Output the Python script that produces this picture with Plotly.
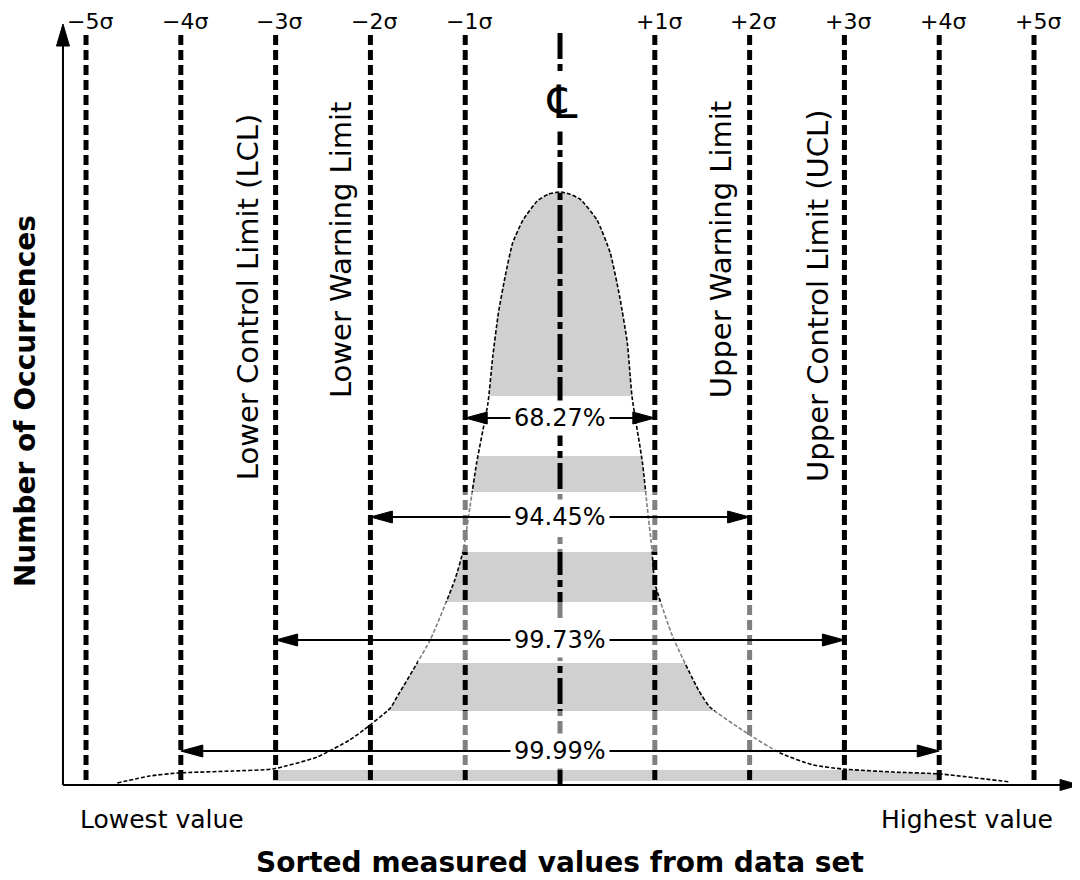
import plotly.graph_objects as go

# ---------------- data ----------------
sigma_levels = [-5, -4, -3, -2, -1, 1, 2, 3, 4, 5]
sigma_labels = ["−5σ", "−4σ", "−3σ", "−2σ", "−1σ", "+1σ", "+2σ", "+3σ", "+4σ", "+5σ"]

curve_s = [-4.67, -4.33, -4.03, -3.45, -3.03, -2.56, -2.22, -2.07, -1.79, -1.72, -1.37, -1.11,
           -1.02, -0.95, -0.88, -0.76, -0.71, -0.65, -0.58, -0.50, -0.39, -0.24, -0.12,
           0.00, 0.10, 0.21, 0.39, 0.53, 0.63, 0.71, 0.76, 0.87, 0.92, 0.97, 1.00, 1.19,
           1.46, 1.58, 1.97, 2.32, 2.67, 2.98, 3.51, 4.01, 4.75]
curve_h = [2, 9, 12, 14, 16, 28, 45, 55, 77, 88, 145, 205,
           235, 278, 322, 382, 428, 472, 508, 542, 565, 584, 591,
           593, 591, 586, 565, 532, 488, 442, 388, 322, 278, 235, 202, 148,
           95, 78, 52, 32, 20, 16, 13, 11, 3]

band_bottom = [389, 293, 183, 74, 4]
band_top = [593, 329, 233, 122, 15]
band5_extent = [-3.03, 4.01]

overlay_gaps = [1, 2, 3]
overlay_s0 = [-1.15, -1.5, -1.7]
overlay_s1 = [1.15, 2.25, 2.3]

arrow_pct = ["68.27%", "94.45%", "99.73%", "99.99%"]
arrow_half = [1, 2, 3, 4]
arrow_h = [367, 268, 145, 34]

limit_labels = ["Lower Control Limit (LCL)", "Lower Warning Limit",
                "Upper Warning Limit", "Upper Control Limit (UCL)"]
limit_label_s = [-3.29, -2.31, 1.70, 2.72]
limit_label_h = [488, 535, 535, 489]

x_title = "Sorted measured values from data set"
y_title = "Number of Occurrences"
low_text = "Lowest value"
high_text = "Highest value"

# ---------------- layout constants ----------------
FONT = "DejaVu Sans"
PX_PER_SIGMA = 94.8
X_RANGE = [-5.823, 5.485]
Y_RANGE = [-95, 777]
AXIS_X0 = -5.243
AXIS_X1 = 5.475
AXIS_YTOP = 761
LINE_TOP = 750
HEAD_L = 22 / PX_PER_SIGMA   # arrow head length in sigma units
HEAD_W = 12                  # arrow head width in h units (pixels)

fig = go.Figure()


def rects(boxes):
    xs, ys = [], []
    for x0, x1, y0, y1 in boxes:
        xs += [x0, x1, x1, x0, x0, None]
        ys += [y0, y0, y1, y1, y0, None]
    return xs, ys


def nofill_line():
    return dict(width=0, color="rgba(0,0,0,0)")


# grey area under curve
fig.add_trace(go.Scatter(x=curve_s, y=curve_h, mode="lines", fill="tozeroy",
                         fillcolor="#d0d0d0", line=dict(width=0, color="rgba(0,0,0,0)",
                                                        shape="spline", smoothing=0.5),
                         hoverinfo="skip"))

# white gaps between grey bands
sx0, sx1 = curve_s[0] - 0.1, curve_s[-1] + 0.1
gaps = [(band_top[i + 1], band_bottom[i]) for i in range(len(band_bottom) - 1)]
boxes = [(sx0, sx1, g0, g1) for g0, g1 in gaps]
boxes.append((sx0, sx1, -1, band_bottom[-1]))
boxes.append((sx0, band5_extent[0], band_bottom[-1] - 0.5, band_top[-1] + 0.5))
boxes.append((band5_extent[1], sx1, band_bottom[-1] - 0.5, band_top[-1] + 0.5))
gx, gy = rects(boxes)
fig.add_trace(go.Scatter(x=gx, y=gy, mode="lines", fill="toself", fillcolor="white",
                         line=nofill_line(), hoverinfo="skip"))

# sigma lines
lx, ly = [], []
for s in sigma_levels:
    lx += [s, s, None]
    ly += [LINE_TOP, 0, None]
fig.add_trace(go.Scatter(x=lx, y=ly, mode="lines",
                         line=dict(color="black", width=5, dash="10px,5px"), hoverinfo="skip"))

# centre line
fig.add_trace(go.Scatter(x=[0, 0], y=[752, 0], mode="lines",
                         line=dict(color="black", width=5, dash="26px,5px,7px,5px"),
                         hoverinfo="skip"))

# curve outline
fig.add_trace(go.Scatter(x=curve_s, y=curve_h, mode="lines",
                         line=dict(color="black", width=1.6, dash="4px,2px",
                                   shape="spline", smoothing=0.5), hoverinfo="skip"))

# semi-transparent overlays in gaps
ob = []
for gi, a, b in zip(overlay_gaps, overlay_s0, overlay_s1):
    g0, g1 = gaps[gi]
    ob.append((a, b, g0, g1))
ox, oy = rects(ob)
fig.add_trace(go.Scatter(x=ox, y=oy, mode="lines", fill="toself",
                         fillcolor="rgba(255,255,255,0.5)", line=nofill_line(), hoverinfo="skip"))

# axes lines
fig.add_trace(go.Scatter(x=[AXIS_X0, AXIS_X0, None, AXIS_X0, AXIS_X1 - 0.1],
                         y=[0, AXIS_YTOP - 15, None, 0, 0], mode="lines",
                         line=dict(color="black", width=2), hoverinfo="skip"))

# percentage arrow shafts
ax_, ay_ = [], []
for half, h in zip(arrow_half, arrow_h):
    ax_ += [-half + HEAD_L * 0.5, half - HEAD_L * 0.5, None]
    ay_ += [h, h, None]
fig.add_trace(go.Scatter(x=ax_, y=ay_, mode="lines", line=dict(color="black", width=2),
                         hoverinfo="skip"))

# arrow heads (percentage arrows + axes)
hx, hy = [], []
for half, h in zip(arrow_half, arrow_h):
    hx += [-half, -half + HEAD_L, -half + HEAD_L, -half, None]
    hy += [h, h + HEAD_W / 2, h - HEAD_W / 2, h, None]
    hx += [half, half - HEAD_L, half - HEAD_L, half, None]
    hy += [h, h + HEAD_W / 2, h - HEAD_W / 2, h, None]
yw = 6.5 / PX_PER_SIGMA
hx += [AXIS_X0, AXIS_X0 - yw, AXIS_X0 + yw, AXIS_X0, None]
hy += [AXIS_YTOP, AXIS_YTOP - 22, AXIS_YTOP - 22, AXIS_YTOP, None]
xl = 19 / PX_PER_SIGMA
hx += [AXIS_X1, AXIS_X1 - xl, AXIS_X1 - xl, AXIS_X1, None]
hy += [0, 5.5, -5.5, 0, None]
fig.add_trace(go.Scatter(x=hx, y=hy, mode="lines", fill="toself", fillcolor="black",
                         line=dict(color="black", width=1), hoverinfo="skip"))

ann = []
for pct, h in zip(arrow_pct, arrow_h):
    ann.append(dict(x=0, y=h, xref="x", yref="y", text=pct, showarrow=False,
                    bgcolor="white", borderpad=3,
                    font=dict(family=FONT, size=24, color="black")))

# sigma labels
for s, lab in zip(sigma_levels, sigma_labels):
    ann.append(dict(x=s + 0.04, y=777, xref="x", yref="y", yanchor="top", text=lab,
                    showarrow=False, borderpad=0,
                    font=dict(family=FONT, size=22, color="black")))

# centre line symbol
ann.append(dict(x=0.03, y=683, xref="x", yref="y", text="℄", showarrow=False,
                bgcolor="white", borderpad=2, font=dict(family=FONT, size=46, color="black")))

# limit labels
for lab, s, h in zip(limit_labels, limit_label_s, limit_label_h):
    ann.append(dict(x=s, y=h, xref="x", yref="y", text=lab, showarrow=False, textangle=-90,
                    font=dict(family=FONT, size=29, color="black")))

# end labels and titles
ann.append(dict(x=-5.084, y=-34, xref="x", yref="y", text=low_text, showarrow=False,
                xanchor="left", font=dict(family=FONT, size=25, color="black")))
ann.append(dict(x=5.222, y=-34, xref="x", yref="y", text=high_text, showarrow=False,
                xanchor="right", font=dict(family=FONT, size=25, color="black")))
ann.append(dict(x=0, y=-77, xref="x", yref="y", text="<b>" + x_title + "</b>", showarrow=False,
                font=dict(family=FONT, size=28, color="black")))
ann.append(dict(x=-5.643, y=384, xref="x", yref="y", text="<b>" + y_title + "</b>",
                showarrow=False, textangle=-90, font=dict(family=FONT, size=28, color="black")))

fig.update_layout(
    width=1072, height=872,
    margin=dict(l=0, r=0, t=0, b=0),
    paper_bgcolor="white", plot_bgcolor="white",
    showlegend=False,
    xaxis=dict(range=X_RANGE, visible=False, fixedrange=True),
    yaxis=dict(range=Y_RANGE, visible=False, fixedrange=True),
    annotations=ann,
    font=dict(family=FONT),
)

fig.write_html("out.html")
